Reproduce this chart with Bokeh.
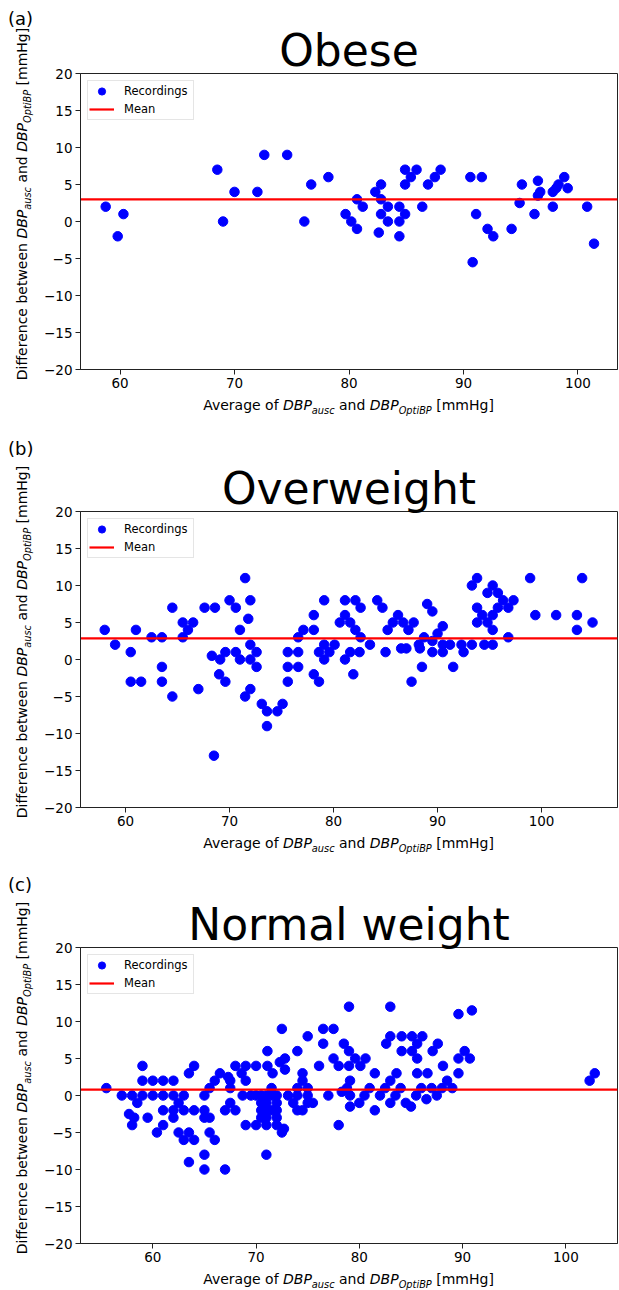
from bokeh.plotting import figure
from bokeh.models import Range1d, FixedTicker, Legend, LegendItem, Div, Title
from bokeh.layouts import column, row
from bokeh.embed import file_html
from bokeh.resources import INLINE

FONT = "DejaVu Sans"

# ---------------- data ----------------
titles = ["Obese", "Overweight", "Normal weight"]
letters = ["(a)", "(b)", "(c)"]
x_ticks = [60, 70, 80, 90, 100]
y_ticks = [-20, -15, -10, -5, 0, 5, 10, 15, 20]
y_tick_labels = ["−20", "−15", "−10", "−5", "0", "5", "10", "15", "20"]

obese_x = [58.75, 59.8, 60.3, 68.5, 69.0, 70.0, 72.0, 72.6, 74.6, 76.1, 76.7, 78.2,
           79.7, 80.2, 80.7, 80.7, 81.2, 82.3, 82.8, 82.8, 83.4, 82.8, 83.4, 82.6,
           84.4, 84.9, 84.4, 84.4, 84.9, 85.9, 85.4, 84.9, 86.4, 86.9, 87.5, 88.0,
           90.6, 91.6, 90.8, 91.1, 92.1, 92.6, 94.2, 94.9, 95.1, 96.2, 96.5, 96.5,
           96.7, 97.8, 97.8, 98.1, 98.3, 98.8, 99.1, 100.8, 101.4]
obese_y = [2, -2, 1, 7, 0, 4, 4, 9, 9, 0, 5, 6,
           1, 0, -1, 3, 2, 4, 5, 3, 2, 1, 0, -1.5,
           2, 1, 0, -2, 7, 7, 6, 5, 2, 5, 6, 7,
           6, 6, -5.5, 1, -1, -2, -1, 2.5, 5, 1, 5.5, 3.5,
           4, 2, 4, 4.5, 5, 6, 4.5, 2, -3]
obese_mean = 3.0

over_x = [58.0, 59.0, 61.0, 62.5, 63.5, 64.5, 65.5, 65.5, 66.0, 66.5, 67.6, 68.6,
          70.0, 70.6, 71.5, 72.0, 71.8, 71.0, 72.0, 72.6, 69.6, 70.6, 68.3, 75.6,
          76.6, 76.6, 77.1, 78.1, 78.1, 79.1, 78.6, 79.1, 79.6, 80.1, 81.1, 80.6,
          81.1, 81.6, 82.1, 82.6, 82.1, 82.6, 84.2, 84.7, 85.2, 85.7, 86.2, 86.7,
          87.2, 87.7, 89.0, 89.5, 90.5, 90.0, 88.7, 88.2, 89.5, 90.5, 91.2, 87.0,
          88.3, 92.3, 93.3, 93.3, 93.8, 93.8, 94.3, 93.8, 94.8, 95.3, 95.8, 96.3,
          95.8, 95.3, 94.8, 95.3, 95.3, 96.8, 97.3, 96.8, 98.9, 99.4, 101.4, 103.4,
          103.9, 103.4, 104.9,
          60.5, 63.5, 60.5, 61.5, 63.5, 64.5, 67.0, 69.1, 71.0, 69.0, 69.6, 72.0,
          72.6, 72.0, 71.5, 73.1, 73.6, 74.6, 75.1, 73.6, 68.5, 75.6, 76.6, 75.6,
          78.1, 78.6, 79.1, 81.1, 81.6, 81.9,
          82.5, 83.5, 85.0, 86.5, 87.5, 88.5, 89.5, 90.5, 91.5, 92.5, 94.5]
over_y = [4, 2, 4, 3, 3, 7, 5, 3, 4, 5, 7, 7,
          8, 7, 11, 8, 5.5, 4, 2, 1, 1, 1, 0.5, 1,
          1, 3, 4, 4, 6, 8, 1, 2, 1, 2, 8, 5,
          6, 5, 8, 7, 4, 3, 8, 7, 4, 5, 6, 5,
          4, 5, 7.5, 6.5, 4.5, 3.5, 3, 2, 2.5, 2, 2, 1.5,
          1.5, 2, 2, 10, 11, 7, 6, 5, 9, 10, 9, 8,
          7, 6, 5, 4, 2, 7, 8, 3, 11, 6, 6, 6,
          11, 4, 5,
          1, -1, -3, -3, -3, -5, -4, 0, 0, -2, -3, 0,
          -1, -4, -5, -6, -7, -7, -6, -9, -13, -1, -1, -3,
          -2, -3, 0, 0, 1, -2,
          1, 2, 1, 1.5, -3, -1, 1, 1, -1, 1, 2]
over_mean = 2.85

norm_x = [59.0, 59.0, 60.0, 61.0, 62.0, 63.5, 64.0, 66.0, 66.5, 67.3, 68.0, 69.0,
          70.0, 68.6, 71.1, 71.1, 71.6, 72.5, 72.3, 72.8, 72.8, 74.0, 74.5, 75.0,
          76.1, 76.5, 77.5, 76.5, 77.5, 78.0, 78.5, 79.0, 79.0, 79.0,
          83.0, 89.6, 90.9, 79.6, 80.6, 80.1, 81.5, 83.0, 84.1, 85.1, 86.1, 82.6,
          85.6, 87.6, 84.1, 85.1, 87.1, 85.6, 89.6, 90.7, 90.2, 88.1, 89.6, 83.6,
          83.0, 85.6, 86.6, 79.1, 102.8, 102.3,
          55.5, 57.0, 58.0, 59.0, 60.0, 61.0, 62.0, 63.0, 58.5, 57.7, 58.2, 59.5,
          58.0, 61.0, 62.0, 61.0, 60.4, 62.0, 62.5, 63.0, 64.0, 63.5, 62.5, 63.0,
          64.0, 65.0, 65.0, 65.5, 65.5, 66.0, 65.0, 63.5, 65.0, 67.0, 65.0, 65.5,
          67.0, 67.5, 68.0, 67.5, 67.5, 69.0,
          68.7, 69.5, 70.0, 70.5, 71.0, 71.5, 72.0, 70.5, 71.0, 72.0, 70.5, 71.0,
          71.5, 72.0, 70.5, 71.0, 72.0, 69.0, 70.0, 71.0, 72.0, 72.5, 72.7, 71.0,
          71.5, 73.1, 74.0, 75.0, 73.6, 74.0, 74.5, 75.0, 74.0, 74.5, 75.0, 75.5,
          77.0, 78.0, 78.3, 78.8, 79.1, 79.1,
          80.0, 80.5, 81.0, 81.5, 82.0, 82.5, 83.0, 83.5, 84.0, 84.5, 85.0, 85.5,
          86.0, 86.5, 87.0, 87.5, 88.0, 88.5, 89.0]
norm_y = [4, 2, 2, 2, 2, 3, 4, 2, 3, 2.5, 4, 4,
          4, 3, 4, 6, 3, 9, 4.5, 5, 3.5, 6, 3, 8,
          4, 9, 9, 7, 5, 4, 7, 6, 12, 4,
          12, 11, 11.5, 5, 5, 4, 3, 8, 8, 8, 8, 7,
          7, 7, 6, 6, 6, 5, 5, 5, 6, 4, 3, 3,
          2, 3, 3, 2, 3, 2,
          1, 0, 0, 0, 0, 0, 0, 0, -1, -2.5, -3, -3,
          -4, -2, -2, -4, -5, -3, -5, -6, -6, -5, -1, -2,
          -2, -2, -3, -3, -5, -6, -8, -9, -10, -10, 0, 1,
          -2, -1, -2, 2, 1, 2,
          0, 0, 0, 0, 0, 0, 0, -1, -1, -1, -2, -2,
          -2, -2, -3, -3, -3, -4, -4, -4, -4, -5, -4.5, -8,
          1, 0, 0, 0, -1, -2, -2, -1, 1, 2, 1, -1,
          0, -4, 0.5, 1, 0, -1.5,
          -1, 0, 1, -2, 0, 1, -1, 0, 1, -1, -1.5, 0,
          1, -0.5, 1, 0, 1, 2, 1]
norm_mean = 0.8

# ---------------- geometry ----------------
SIDE_W = 36          # column holding the panel letter and the rotated y label
FIG_W = 583
FIG_TOP = 73
FRAME_H = 296
FIG_BOTTOM = 30
FIG_H = FIG_TOP + FRAME_H + FIG_BOTTOM
FIG_LEFT = 44
FIG_RIGHT = 2
FRAME_CX = FIG_LEFT + (FIG_W - FIG_LEFT - FIG_RIGHT) / 2.0
YLABEL_SHIFT = -17

BASE = ("position:absolute;white-space:nowrap;font-family:'DejaVu Sans',sans-serif;"
        "color:#000;margin:0;padding:0;")
SUBSTYLE = "font-size:9.8px;line-height:1;vertical-align:-3.5px;font-style:italic;"


def rich_label(first):
    return (first + "<i>DBP</i><span style='" + SUBSTYLE + "'>ausc</span> and "
            "<i>DBP</i><span style='" + SUBSTYLE + "'>OptiBP</span> [mmHg]")


def panel(i, xs, ys, mean, xr, block_h, letter_top):
    p = figure(width=FIG_W, height=FIG_H, x_range=Range1d(*xr), y_range=Range1d(-20, 20),
               output_backend="svg", toolbar_location=None, title=None,
               min_border_left=FIG_LEFT, min_border_right=FIG_RIGHT,
               min_border_top=FIG_TOP, min_border_bottom=FIG_BOTTOM)
    p.background_fill_color = "white"
    p.border_fill_color = "white"
    p.grid.visible = False
    p.outline_line_color = "#222222"
    p.outline_line_width = 1
    p.xaxis.ticker = FixedTicker(ticks=x_ticks)
    p.yaxis.ticker = FixedTicker(ticks=y_ticks)
    p.yaxis.major_label_overrides = dict(zip(y_ticks, y_tick_labels))
    for ax in (p.xaxis[0], p.yaxis[0]):
        ax.major_tick_out = 5
        ax.major_tick_in = 0
        ax.minor_tick_out = 0
        ax.minor_tick_in = 0
        ax.major_label_standoff = 3
        ax.major_label_text_font = FONT
        ax.major_label_text_font_size = "13.5px"
        ax.major_label_text_color = "black"
        ax.axis_line_color = "#222222"
        ax.major_tick_line_color = "#222222"

    title = Title(text=titles[i], align="center", vertical_align="bottom",
                  text_font=FONT, text_font_size="44px", text_font_style="normal",
                  text_color="black", standoff=-4)
    p.add_layout(title, "above")

    sc = p.scatter(xs, ys, size=9.5, fill_color="#0000ff", line_color="#0000ff")
    ln = p.line([xr[0], xr[1]], [mean, mean], line_color="#ff0000", line_width=2.2)

    leg = Legend(items=[LegendItem(label="Recordings", renderers=[sc]),
                        LegendItem(label="Mean", renderers=[ln])],
                 location="top_left")
    leg.label_text_font = FONT
    leg.label_text_font_size = "11.5px"
    leg.label_text_color = "black"
    leg.glyph_width = 25
    leg.glyph_height = 18
    leg.label_height = 18
    leg.label_width = 68
    leg.label_standoff = 10
    leg.padding = 1
    leg.margin = 7
    leg.spacing = 0
    leg.border_line_color = "#cccccc"
    leg.border_line_width = 1
    leg.background_fill_alpha = 0.8
    p.add_layout(leg)

    # x axis label
    xl_html = ("<div style=\"" + BASE + "font-size:14px;line-height:16px;"
               "left:" + str(FRAME_CX) + "px;top:-1.85px;transform:translateX(-50%);\">"
               + rich_label("Average of ") + "</div>")
    x_div = Div(text=xl_html, width=FIG_W, height=block_h - FIG_H, margin=(0, 0, 0, 0))

    # panel letter and rotated y label
    center_y = FIG_TOP + FRAME_H / 2.0 + YLABEL_SHIFT
    side_html = ("<div style=\"" + BASE + "font-size:18px;line-height:22px;left:8px;top:"
                 + str(letter_top) + "px;\">" + letters[i] + "</div>"
                 "<div style=\"" + BASE + "font-size:14px;line-height:16px;left:14.15px;top:"
                 + str(center_y) + "px;transform-origin:0 0;"
                 "transform:rotate(-90deg) translateX(-50%);\">"
                 + rich_label("Difference between ") + "</div>")
    side_div = Div(text=side_html, width=SIDE_W, height=block_h, margin=(0, 0, 0, 0))

    return row(side_div, column(p, x_div, spacing=0), spacing=0)


ba = panel(0, obese_x, obese_y, obese_mean, (56.55, 103.45), 438, 8.4)
bb = panel(1, over_x, over_y, over_mean, (55.67, 107.3), 436, 0.4)
bc = panel(2, norm_x, norm_y, norm_mean, (53.0, 105.0), 416, 0)

layout = column(ba, bb, bc, spacing=0)
open("out.html", "w").write(file_html(layout, INLINE))
